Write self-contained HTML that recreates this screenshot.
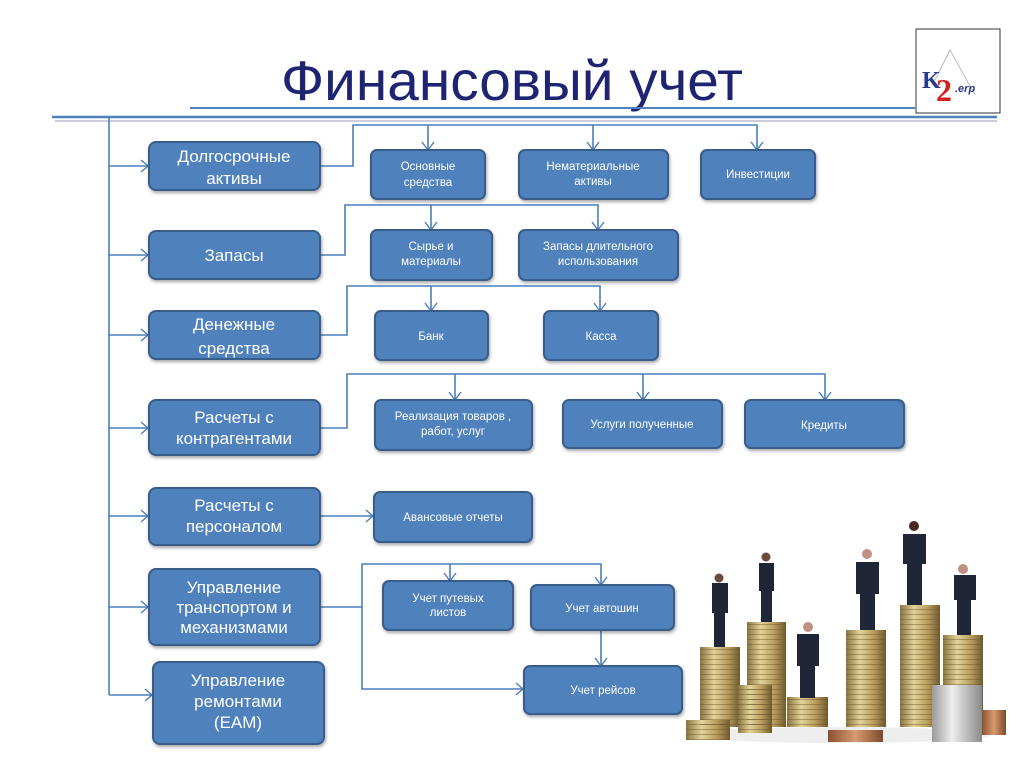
<!DOCTYPE html>
<html><head><meta charset="utf-8">
<style>
html,body{margin:0;padding:0;background:#fff;}
svg{display:block;}
.b{fill:#4f81bd;stroke:#385d8a;stroke-width:2;}
.l{fill:none;stroke:#4a7ebb;stroke-width:1.6;}
.a{fill:none;stroke:#4a7ebb;stroke-width:1.4;}
.t{font-family:"Liberation Sans","DejaVu Sans",sans-serif;fill:#fff;text-anchor:middle;}
.big{font-size:17px;}
.sm{font-size:11.5px;}
</style></head><body>
<svg width="1024" height="768" viewBox="0 0 1024 768" xmlns="http://www.w3.org/2000/svg">
<defs>
<filter id="sh" x="-10%" y="-20%" width="130%" height="150%"><feDropShadow dx="1" dy="2" stdDeviation="1.5" flood-color="#000" flood-opacity="0.35"/></filter>
<linearGradient id="g" x1="0" x2="1"><stop offset="0" stop-color="#8a7440"/><stop offset="0.35" stop-color="#e3d39a"/><stop offset="0.7" stop-color="#b89c5c"/><stop offset="1" stop-color="#6e5a30"/></linearGradient>
<linearGradient id="s" x1="0" x2="1"><stop offset="0" stop-color="#9a9a9a"/><stop offset="0.4" stop-color="#eeeeee"/><stop offset="1" stop-color="#8a8a8a"/></linearGradient>
<linearGradient id="c" x1="0" x2="1"><stop offset="0" stop-color="#8a5030"/><stop offset="0.5" stop-color="#d89a70"/><stop offset="1" stop-color="#7a4a2a"/></linearGradient>
<pattern id="st" width="200" height="5" patternUnits="userSpaceOnUse"><rect y="4" width="200" height="1" fill="#6a5428" opacity="0.45"/></pattern>
</defs>

<!-- title -->
<text x="512" y="100" font-family="Liberation Sans, DejaVu Sans, sans-serif" font-size="56" fill="#1f2472" text-anchor="middle" textLength="462" lengthAdjust="spacingAndGlyphs">Финансовый учет</text>
<line x1="190" y1="108" x2="915" y2="108" stroke="#4f81bd" stroke-width="2"/>
<line x1="52" y1="117" x2="997" y2="117" stroke="#4f81bd" stroke-width="2.5"/>
<line x1="55" y1="121" x2="997" y2="121" stroke="#ccd" stroke-width="2"/>
<!-- logo -->
<rect x="916" y="29" width="84" height="84" fill="#fff" stroke="#333" stroke-width="1"/>
<path d="M935 80 L950 50 L975 95" fill="none" stroke="#bbb" stroke-width="1"/>
<text x="922" y="88" font-family="Liberation Serif, serif" font-weight="bold" font-size="24" fill="#2a3a8a">K</text>
<text x="936" y="101" font-family="Liberation Serif, serif" font-weight="bold" font-size="32" fill="#d02020">2</text>
<text x="955" y="92" font-family="Liberation Sans, sans-serif" font-style="italic" font-weight="bold" font-size="11" fill="#2a3a8a">.erp</text>

<!-- main spine -->
<path class="l" d="M109 118 V695"/>
<g class="l">
<path d="M109 166 H148"/><path d="M109 255 H148"/><path d="M109 335 H148"/><path d="M109 428 H148"/><path d="M109 516 H148"/><path d="M109 607 H148"/><path d="M109 695 H152"/>
</g>
<g class="a">
<path d="M141 160 L148 166 L141 172"/><path d="M141 249 L148 255 L141 261"/><path d="M141 329 L148 335 L141 341"/><path d="M141 422 L148 428 L141 434"/><path d="M141 510 L148 516 L141 522"/><path d="M141 601 L148 607 L141 613"/><path d="M145 689 L152 695 L145 701"/>
</g>

<!-- connectors -->
<g class="l">
<path d="M320 166 H353 V125 H757 V150 M428 125 V150 M593 125 V150"/>
<path d="M320 255 H345 V205 H598 V230 M431 205 V230"/>
<path d="M320 335 H347 V286 H600 V311 M431 286 V311"/>
<path d="M320 428 H347 V374 H825 V400 M455 374 V400 M643 374 V400"/>
<path d="M320 516 H373"/>
<path d="M320 607 H362 V564 H601 V585 M450 564 V581 M362 607 V689 H523"/>
<path d="M601 630 V666"/>
</g>
<g class="a">
<path d="M422 142 L428 150 L434 142"/><path d="M587 142 L593 150 L599 142"/><path d="M751 142 L757 150 L763 142"/>
<path d="M425 222 L431 230 L437 222"/><path d="M592 222 L598 230 L604 222"/>
<path d="M425 303 L431 311 L437 303"/><path d="M594 303 L600 311 L606 303"/>
<path d="M449 392 L455 400 L461 392"/><path d="M637 392 L643 400 L649 392"/><path d="M819 392 L825 400 L831 392"/>
<path d="M366 510 L373 516 L366 522"/>
<path d="M444 573 L450 581 L456 573"/><path d="M595 577 L601 585 L607 577"/>
<path d="M595 658 L601 666 L607 658"/><path d="M516 683 L523 689 L516 695"/>
</g>

<!-- left boxes -->
<g filter="url(#sh)">
<rect class="b" x="149" y="142" width="171" height="48" rx="7"/>
<rect class="b" x="149" y="231" width="171" height="48" rx="7"/>
<rect class="b" x="149" y="311" width="171" height="48" rx="7"/>
<rect class="b" x="149" y="400" width="171" height="55" rx="7"/>
<rect class="b" x="149" y="488" width="171" height="57" rx="7"/>
<rect class="b" x="149" y="569" width="171" height="76" rx="7"/>
<rect class="b" x="153" y="662" width="171" height="82" rx="7"/>
<rect class="b" x="371" y="150" width="114" height="49" rx="6"/>
<rect class="b" x="519" y="150" width="149" height="49" rx="6"/>
<rect class="b" x="701" y="150" width="114" height="49" rx="6"/>
<rect class="b" x="371" y="230" width="121" height="50" rx="6"/>
<rect class="b" x="519" y="230" width="159" height="50" rx="6"/>
<rect class="b" x="375" y="311" width="113" height="49" rx="6"/>
<rect class="b" x="544" y="311" width="114" height="49" rx="6"/>
<rect class="b" x="375" y="400" width="157" height="50" rx="6"/>
<rect class="b" x="563" y="400" width="159" height="48" rx="6"/>
<rect class="b" x="745" y="400" width="159" height="48" rx="6"/>
<rect class="b" x="374" y="492" width="158" height="50" rx="6"/>
<rect class="b" x="383" y="581" width="130" height="49" rx="6"/>
<rect class="b" x="531" y="585" width="143" height="45" rx="6"/>
<rect class="b" x="524" y="666" width="158" height="48" rx="6"/>
</g>

<g class="t big">
<text x="234" y="162">Долгосрочные</text><text x="234" y="184">активы</text>
<text x="234" y="261">Запасы</text>
<text x="234" y="330">Денежные</text><text x="234" y="354">средства</text>
<text x="234" y="423">Расчеты с</text><text x="234" y="444">контрагентами</text>
<text x="234" y="511">Расчеты с</text><text x="234" y="532">персоналом</text>
<text x="234" y="593">Управление</text><text x="234" y="613">транспортом и</text><text x="234" y="633">механизмами</text>
<text x="238" y="686">Управление</text><text x="238" y="707">ремонтами</text><text x="238" y="728">(EAM)</text>
</g>
<g class="t sm">
<text x="428" y="170">Основные</text><text x="428" y="186">средства</text>
<text x="593" y="170">Нематериальные</text><text x="593" y="185">активы</text>
<text x="758" y="178">Инвестиции</text>
<text x="431" y="250">Сырье и</text><text x="431" y="265">материалы</text>
<text x="598" y="250">Запасы длительного</text><text x="598" y="265">использования</text>
<text x="431" y="340">Банк</text>
<text x="601" y="340">Касса</text>
<text x="453" y="420">Реализация товаров ,</text><text x="453" y="435">работ, услуг</text>
<text x="642" y="428">Услуги полученные</text>
<text x="824" y="429">Кредиты</text>
<text x="453" y="521">Авансовые отчеты</text>
<text x="448" y="602">Учет путевых</text><text x="448" y="616">листов</text>
<text x="602" y="612">Учет автошин</text>
<text x="603" y="694">Учет рейсов</text>
</g>

<!-- coins illustration -->
<g>
<ellipse cx="840" cy="735" rx="150" ry="8" fill="#eee"/>
<g fill="url(#g)">
<rect x="700" y="647" width="40" height="80"/>
<rect x="747" y="622" width="39" height="105"/>
<rect x="787" y="697" width="41" height="30"/>
<rect x="846" y="630" width="40" height="97"/>
<rect x="900" y="605" width="40" height="122"/>
<rect x="943" y="635" width="40" height="92"/>
<rect x="738" y="685" width="34" height="48"/>
<rect x="686" y="720" width="44" height="20"/>
</g>
<g fill="url(#st)">
<rect x="700" y="647" width="40" height="80"/>
<rect x="747" y="622" width="39" height="105"/>
<rect x="787" y="697" width="41" height="30"/>
<rect x="846" y="630" width="40" height="97"/>
<rect x="900" y="605" width="40" height="122"/>
<rect x="943" y="635" width="40" height="92"/>
<rect x="738" y="685" width="34" height="48"/>
<rect x="686" y="720" width="44" height="20"/>
</g>
<rect x="932" y="685" width="50" height="57" fill="url(#s)"/>
<rect x="982" y="710" width="24" height="25" fill="url(#c)"/>
<rect x="828" y="730" width="55" height="12" fill="url(#c)"/>
<g fill="#1e2638">
<rect x="712" y="583" width="16" height="30"/><rect x="714" y="613" width="11" height="34"/><circle cx="719" cy="578" r="4.5" fill="#6a4a3a"/>
<rect x="759" y="563" width="15" height="28"/><rect x="761" y="591" width="11" height="31"/><circle cx="766" cy="557" r="4.5" fill="#6a4a3a"/>
<rect x="797" y="634" width="22" height="32"/><rect x="800" y="666" width="15" height="32"/><circle cx="808" cy="627" r="5" fill="#c09080"/>
<rect x="856" y="562" width="23" height="32"/><rect x="860" y="594" width="15" height="36"/><circle cx="867" cy="554" r="5" fill="#c09080"/>
<rect x="903" y="534" width="23" height="30"/><rect x="907" y="564" width="15" height="41"/><circle cx="914" cy="526" r="5" fill="#4a2a20"/>
<rect x="954" y="575" width="22" height="25"/><rect x="957" y="600" width="14" height="35"/><circle cx="963" cy="569" r="5" fill="#c09080"/>
</g>
</g>
</svg>
</body></html>
